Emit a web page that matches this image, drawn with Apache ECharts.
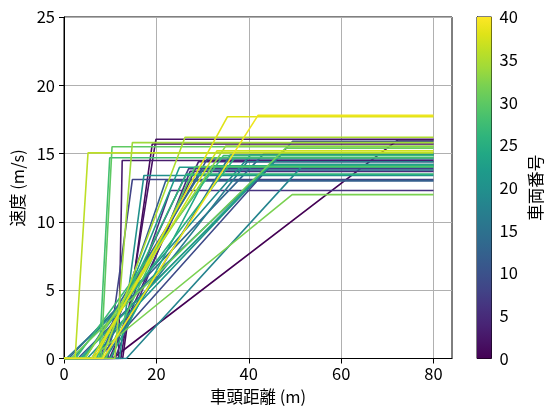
<!DOCTYPE html>
<html>
<head>
<meta charset="utf-8">
<script src="https://cdn.jsdelivr.net/npm/echarts@6/dist/echarts.min.js"></script>
<style>
  html, body { margin: 0; padding: 0; background: #fff; }
  #chart { width: 545px; height: 412px; }
</style>
</head>
<body>
<div id="chart"></div>
<script>
// Optimal-velocity curves: speed stays 0 up to startGap, rises linearly to
// maxSpeed at endGap, then stays flat out to the end of the headway range.
const vehicleIds = [0, 1, 2, 3, 4, 5, 6, 7, 8, 9, 10, 11, 12, 13, 14, 15, 16, 17, 18, 19,
                    20, 21, 22, 23, 24, 25, 26, 27, 28, 29, 30, 31, 32, 33, 34, 35, 36, 37, 38, 39];
const startGap = [10.5, 12.7, 12.3, 11.8, 9.8, 11.0, 10.3, 7.5, 9.5, 7.4,
                  6.0, 3.0, 8.8, 1.0, 4.5, 9.0, 0.5, 6.5, 13.5, 2.0,
                  12.0, 5.0, 8.0, 3.5, 10.0, 4.0, 7.0, 2.5, 7.6, 9.0,
                  8.0, 1.5, 5.8, 4.5, 11.0, 8.2, 2.4, 6.0, 6.6, 8.4];
const endGap = [72.3, 19.1, 19.9, 12.6, 29.1, 27.3, 23.0, 27.0, 14.8, 49.5,
                31.0, 45.1, 22.0, 43.3, 30.0, 36.0, 47.3, 39.7, 51.6, 40.4,
                17.3, 46.9, 25.0, 44.7, 32.0, 37.0, 26.5, 34.5, 9.9, 28.4,
                10.4, 48.0, 49.4, 35.0, 14.8, 26.2, 5.2, 33.1, 35.4, 42.0];
const maxSpeed = [16.0, 15.7, 16.05, 14.5, 14.4, 13.7, 12.3, 13.9, 13.1, 15.9,
                  14.6, 14.2, 13.0, 15.0, 13.8, 14.9, 15.0, 14.4, 14.1, 14.9,
                  13.4, 15.0, 14.0, 14.2, 14.1, 14.7, 13.5, 14.85, 14.7, 14.05,
                  15.5, 15.4, 12.0, 15.55, 15.8, 16.2, 15.05, 15.2, 17.7, 17.8];
const headwayEnd = 80;
const xTicks = [0, 20, 40, 60, 80];
const speedTicks = [0, 5, 10, 15, 20, 25];
const idTicks = [0, 5, 10, 15, 20, 25, 30, 35, 40];

// viridis colour map
const viridisStops = ['#440154', '#471365', '#482475', '#46337f', '#414487', '#3b528b',
  '#355f8d', '#2f6c8e', '#2a788e', '#25848e', '#21918c', '#1e9b8a', '#22a884',
  '#2fb47c', '#44bf70', '#5ec962', '#7ad151', '#9fda3a', '#bddf26', '#dfe318', '#fde725'];
function hexToRgb(h) {
  return [parseInt(h.slice(1, 3), 16), parseInt(h.slice(3, 5), 16), parseInt(h.slice(5, 7), 16)];
}
function viridis(t) {
  t = Math.max(0, Math.min(1, t));
  const pos = t * (viridisStops.length - 1);
  const i = Math.min(Math.floor(pos), viridisStops.length - 2);
  const f = pos - i;
  const a = hexToRgb(viridisStops[i]), b = hexToRgb(viridisStops[i + 1]);
  const c = a.map((v, k) => Math.round(v + (b[k] - v) * f));
  return 'rgb(' + c.join(',') + ')';
}

const FONT = '"Noto Sans CJK JP", "Noto Sans", sans-serif';
const idMax = idTicks[idTicks.length - 1];

const curveSeries = vehicleIds.map((id, i) => ({
  type: 'line',
  xAxisIndex: 0,
  yAxisIndex: 0,
  showSymbol: false,
  silent: true,
  animation: false,
  lineStyle: { width: 1.6, color: viridis(id / idMax) },
  data: [[0, 0], [startGap[i], 0], [endGap[i], maxSpeed[i]], [headwayEnd, maxSpeed[i]]]
}));

// colour bar drawn as a single gradient rectangle in its own grid
const barSeries = {
  type: 'custom',
  xAxisIndex: 1,
  yAxisIndex: 1,
  silent: true,
  animation: false,
  data: [[0, idTicks[0], idMax]],
  renderItem: function (params, api) {
    const p0 = api.coord([0, api.value(1)]);
    const p1 = api.coord([1, api.value(2)]);
    return {
      type: 'rect',
      shape: { x: p0[0], y: p1[1], width: p1[0] - p0[0], height: p0[1] - p1[1] },
      style: {
        fill: new echarts.graphic.LinearGradient(0, 1, 0, 0,
          viridisStops.map((c, k) => ({ offset: k / (viridisStops.length - 1), color: c })))
      }
    };
  }
};

const axisText = { color: '#000', fontSize: 16.5, fontFamily: FONT };

const option = {
  backgroundColor: '#fff',
  animation: false,
  grid: [
    { left: 64, right: 93, top: 17, bottom: 53.5, show: true, borderColor: '#000', borderWidth: 1, backgroundColor: 'transparent' },
    { left: 477, width: 16, top: 17, bottom: 53.5, show: true, borderColor: '#000', borderWidth: 1, backgroundColor: 'transparent' }
  ],
  xAxis: [
    {
      gridIndex: 0, type: 'value', min: 0, max: 84, interval: 20,
      name: '車頭距離 (m)', nameLocation: 'middle', nameGap: 30,
      nameTextStyle: axisText,
      axisLine: { show: true, onZero: false, lineStyle: { color: '#000', width: 1 } },
      axisTick: { show: true, inside: false, length: 5, customValues: xTicks, lineStyle: { color: '#000' } },
      axisLabel: Object.assign({ margin: 7, customValues: xTicks, formatter: v => xTicks.includes(v) ? String(v) : '' }, axisText),
      splitLine: { show: true, lineStyle: { color: '#b0b0b0', width: 1 } }
    },
    { gridIndex: 1, type: 'value', min: 0, max: 1, show: false }
  ],
  yAxis: [
    {
      gridIndex: 0, type: 'value', min: 0, max: 25, interval: 5,
      name: '速度 (m/s)', nameLocation: 'middle', nameGap: 36, nameRotate: 90,
      nameTextStyle: axisText,
      axisLine: { show: true, onZero: false, lineStyle: { color: '#000', width: 1 } },
      axisTick: { show: true, inside: false, length: 5, lineStyle: { color: '#000' } },
      axisLabel: Object.assign({ margin: 9, formatter: v => speedTicks.includes(v) ? String(v) : '' }, axisText),
      splitLine: { show: true, lineStyle: { color: '#b0b0b0', width: 1 } }
    },
    {
      gridIndex: 1, type: 'value', min: 0, max: idMax, interval: 5, position: 'right',
      name: '車両番号', nameLocation: 'middle', nameGap: 36, nameRotate: 90,
      nameTextStyle: axisText,
      axisLine: { show: true, lineStyle: { color: '#000', width: 1 } },
      axisTick: { show: true, inside: false, length: 5, lineStyle: { color: '#000' } },
      axisLabel: Object.assign({ margin: 8, formatter: v => idTicks.includes(v) ? String(v) : '' }, axisText),
      splitLine: { show: false }
    }
  ],
  series: curveSeries.concat([barSeries])
};

const chart = echarts.init(document.getElementById('chart'), null, { renderer: 'canvas' });
chart.setOption(option);
</script>
</body>
</html>
